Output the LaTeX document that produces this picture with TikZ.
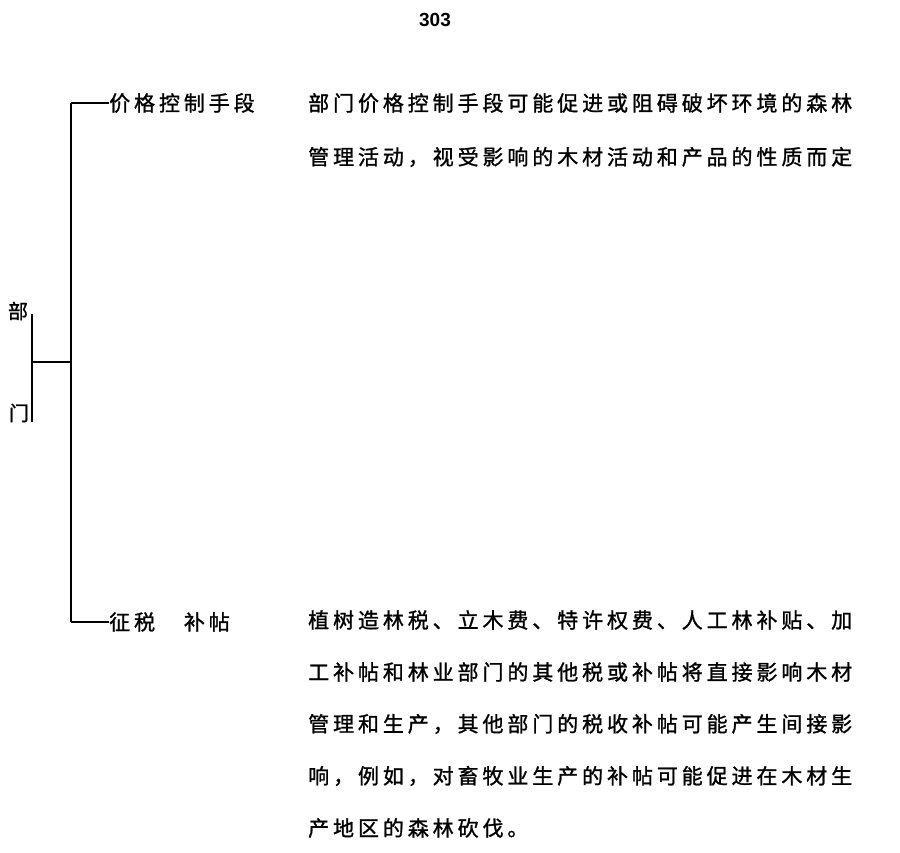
\documentclass[tikz,border=0pt]{standalone}
\usepackage{fontspec}
\setmainfont{Liberation Sans}
\newfontfamily\cjk{Noto Sans CJK SC}[LetterSpace=18.6,FakeBold=1.2]
\newfontfamily\cjkplain{Noto Sans CJK SC}[FakeBold=1.2]
\begin{document}
\begin{tikzpicture}[x=1pt,y=-1pt,
  txt/.style={anchor=west,inner sep=0pt,font=\cjk\fontsize{21}{21}\selectfont},
  single/.style={inner sep=0pt,font=\cjkplain\fontsize{20}{20}\selectfont},
  conn/.style={line width=2pt}]
\useasboundingbox (0,0) rectangle (900,852);
\node[font=\bfseries\fontsize{19}{19}\selectfont,inner sep=0pt] (num) at (435,20) {303};
% left labels
\node[single] (bu) at (18,311) {部};
\node[single] (men) at (19,413) {门};
\coordinate (st) at (32,314);
\coordinate (sb) at (32,422);
\coordinate (sm) at (32,362);
\coordinate (mm) at (71,362);
\coordinate (mt) at (71,103);
\coordinate (mb) at (71,622);
% branch labels
\node[txt] (price) at (109,103) {价格控制手段};
\node[txt] (tax) at (109,622) {征税　补帖};
\draw[conn] (st) -- (sb);
\draw[conn] (sm) -- (mm);
\draw[conn] (mt) -- (mb);
\draw[conn] (mt) -- (price.west);
\draw[conn] (mb) -- (tax.west);
% descriptions
\node[txt] (d1a) at (308,103) {部门价格控制手段可能促进或阻碍破坏环境的森林};
\node[txt] (d1b) at (308,157) {管理活动，视受影响的木材活动和产品的性质而定};
\node[txt] (d2a) at (308,620) {植树造林税、立木费、特许权费、人工林补贴、加};
\node[txt] (d2b) at (308,672) {工补帖和林业部门的其他税或补帖将直接影响木材};
\node[txt] (d2c) at (308,724) {管理和生产，其他部门的税收补帖可能产生间接影};
\node[txt] (d2d) at (308,776) {响，例如，对畜牧业生产的补帖可能促进在木材生};
\node[txt] (d2e) at (308,828) {产地区的森林砍伐。};
\end{tikzpicture}
\end{document}
